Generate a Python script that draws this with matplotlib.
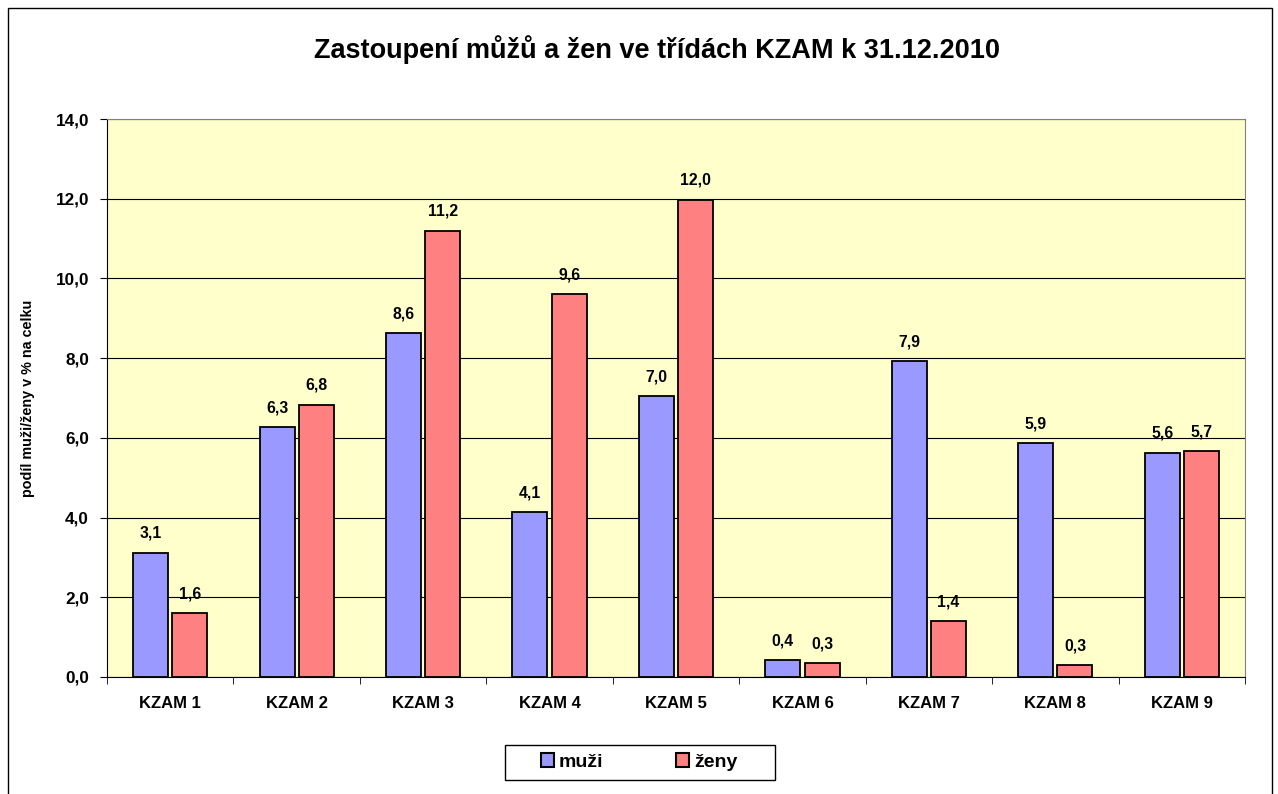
import matplotlib.pyplot as plt
import numpy as np
from matplotlib.patches import Rectangle
from matplotlib.ticker import FuncFormatter

plt.rcParams['font.family'] = 'Liberation Sans'
plt.rcParams['font.weight'] = 'bold'

categories = ['KZAM 1', 'KZAM 2', 'KZAM 3', 'KZAM 4', 'KZAM 5',
              'KZAM 6', 'KZAM 7', 'KZAM 8', 'KZAM 9']
muzi = [3.12, 6.26, 8.63, 4.13, 7.04, 0.42, 7.92, 5.87, 5.63]
zeny = [1.60, 6.83, 11.20, 9.60, 11.98, 0.34, 1.40, 0.30, 5.66]

fig = plt.figure(figsize=(12.78, 7.94), dpi=100)
ax = fig.add_axes([0.0837, 0.1474, 0.8905, 0.7027])
ax.set_facecolor('#FFFFCC')

x = np.arange(len(categories))
w = 0.277
b1 = ax.bar(x - 0.155, muzi, w, color='#9999FF', edgecolor='black', linewidth=1.3, label='muži', zorder=3)
b2 = ax.bar(x + 0.155, zeny, w, color='#FF8080', edgecolor='black', linewidth=1.3, label='ženy', zorder=3)

for bars, vals in ((b1, muzi), (b2, zeny)):
    for r, v in zip(bars, vals):
        ax.text(r.get_x() + r.get_width() / 2, v + 0.3, f'{v:.1f}'.replace('.', ','),
                ha='center', va='bottom', fontsize=11.3, fontweight='bold')

ax.set_xlim(-0.5, len(categories) - 0.5)
ax.set_ylim(0, 14)
ax.set_yticks(np.arange(0, 15, 2))
ax.yaxis.set_major_formatter(FuncFormatter(lambda v, p: f'{v:.1f}'.replace('.', ',')))
ax.set_xticks(x)
ax.set_xticklabels(categories, fontsize=12, fontweight='bold')
ax.set_xticks(np.arange(-0.5, len(categories)), minor=True)
ax.tick_params(axis='x', which='major', length=0, pad=14)
ax.tick_params(axis='x', which='minor', length=5, direction='out')
ax.tick_params(axis='y', length=5, direction='out', labelsize=12.3, pad=8)
ax.grid(axis='y', color='black', linewidth=0.8, zorder=0)

ax.spines['top'].set_color('#808080')
ax.spines['right'].set_color('#808080')
ax.set_ylabel('podíl muži/ženy v % na celku', fontsize=10.4, fontweight='bold', labelpad=15)

fig.text(0.514, 0.937, 'Zastoupení můžů a žen ve třídách KZAM k 31.12.2010',
         ha='center', va='center', fontsize=19.5, fontweight='bold')

leg = fig.legend(handles=[b1, b2], loc='center', bbox_to_anchor=(0.5, 0.0403), ncol=2,
                 frameon=False, fontsize=14,
                 handlelength=0.7, handleheight=0.7, handletextpad=0.25, columnspacing=3.7)
for h in leg.legend_handles:
    h.set_linewidth(1.5)

fig.patches.append(Rectangle((505 / 1278, 14 / 794), 270 / 1278, 35 / 794,
                             transform=fig.transFigure, fill=False, edgecolor='black', linewidth=1))
fig.patches.append(Rectangle((8 / 1278, -0.02), 1264 / 1278, 1.02 - 8 / 794,
                             transform=fig.transFigure, fill=False, edgecolor='black', linewidth=1))

fig.savefig('out.png', dpi=100)
